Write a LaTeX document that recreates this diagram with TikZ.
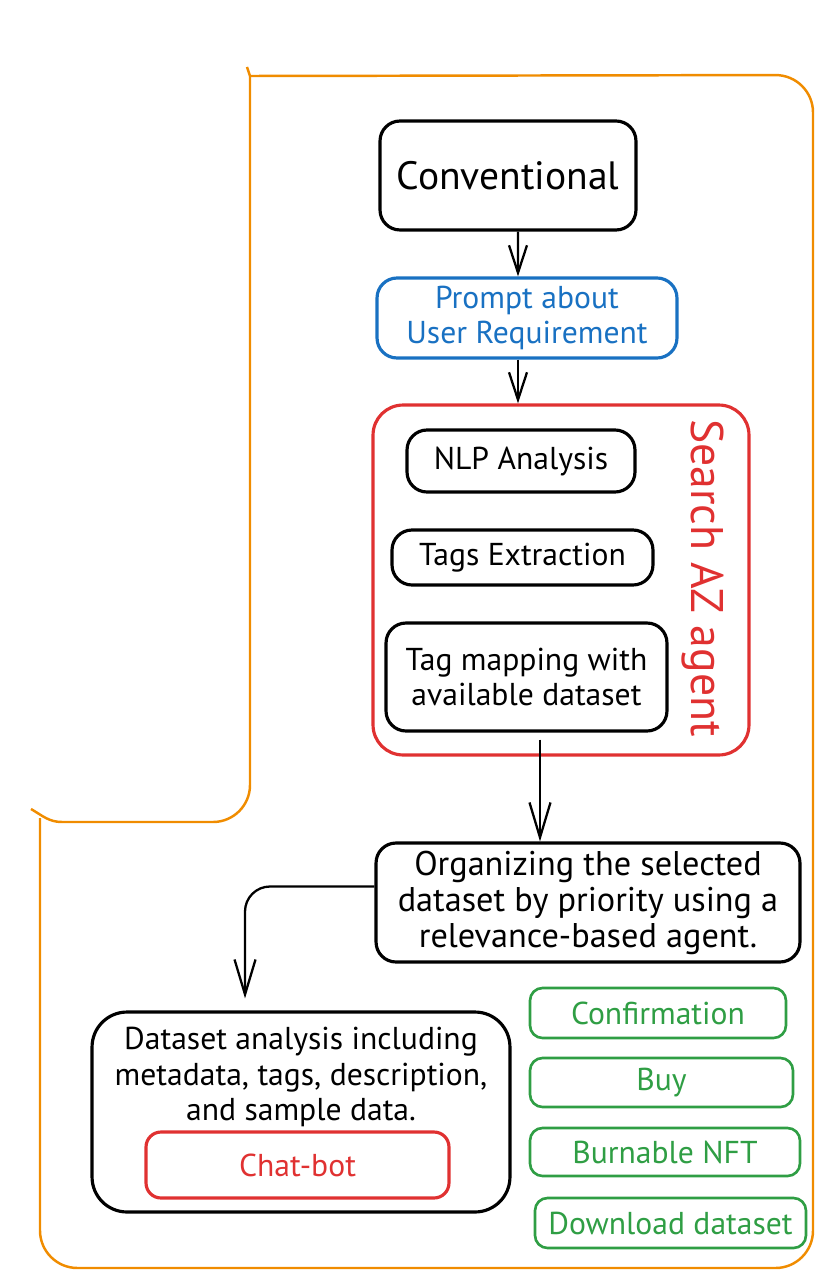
\documentclass[tikz,border=0pt]{standalone}
\usepackage{fontspec}
\setmainfont{PT Sans}
\usetikzlibrary{arrows.meta}
\definecolor{sketchorange}{HTML}{F08C00}
\definecolor{sketchblue}{HTML}{1971C2}
\definecolor{sketchred}{HTML}{E03131}
\definecolor{sketchgreen}{HTML}{2F9E44}

\begin{document}
\begin{tikzpicture}[x=0.02cm, y=-0.02cm,
    box/.style={draw, line width=1.8pt, rounded corners=0.4cm, align=center,
      inner sep=0pt, font=\fontsize{18}{20}\selectfont},
    greenbox/.style={box, draw=sketchgreen, text=sketchgreen, line width=1.5pt, rounded corners=0.25cm},
    frame/.style={sketchorange, line width=1.4pt},
    flow/.style={line width=1.3pt, -{Straight Barb[length=0.7cm, width=0.42cm, line width=1.3pt]}},
    shortflow/.style={flow, -{Straight Barb[length=0.55cm, width=0.36cm, line width=1.3pt]}},
  ]
  \useasboundingbox (0,0) rectangle (827,1280);

  % outer frame
  \draw[frame] (247,67) -- (250,76);
  \draw[frame, rounded corners=0.75cm]
    (250,76) -- (813,75) -- (813,1268) -- (40,1268) -- (40,818);
  \draw[frame] (31,809) to[out=-30,in=180] (62,822);
  \draw[frame, rounded corners=0.74cm] (62,822) -- (250,822) -- (250,76);

  \node[box, minimum width=5.12cm, minimum height=2.18cm,
    font=\fontsize{22.5}{26}\selectfont] (conv) at (508,175.5) {Conventional};
  \node[box, draw=sketchblue, text=sketchblue, minimum width=6cm, minimum height=1.6cm]
    (prompt) at (527,318) {Prompt about\\User Requirement};
  \node[box, draw=sketchred, rounded corners=0.6cm, minimum width=7.52cm, minimum height=7cm]
    (agent) at (561,580) {};
  \node[text=sketchred, rotate=-90, font=\fontsize{26}{30}\selectfont] (agentlabel) at (703,578) {Search AZ agent};

  \node[box, minimum width=4.56cm, minimum height=1.24cm] (nlp) at (521,461) {NLP Analysis};
  \node[box, minimum width=5.22cm, minimum height=1.1cm] (tags) at (522.5,557.5) {Tags Extraction};
  \node[box, minimum width=5.62cm, minimum height=2.16cm] (map) at (526.5,677) {Tag mapping with\\available dataset};

  \node[box, minimum width=8.48cm, minimum height=2.38cm, font=\fontsize{19.5}{20.5}\selectfont] (org) at (588,902.5)
    {Organizing the selected\\dataset by priority using a\\relevance-based agent.};

  \node[box, rounded corners=0.7cm, minimum width=8.36cm, minimum height=4cm] (data) at (301,1112) {};
  \node[align=center, font=\fontsize{18}{20}\selectfont] (datatext) at (301,1077)
    {Dataset analysis including\\metadata, tags, description,\\and sample data.};
  \node[box, draw=sketchred, text=sketchred, rounded corners=0.3cm, minimum width=6.06cm, minimum height=1.32cm]
    (chat) at (297.5,1165) {Chat-bot};

  \node[greenbox, minimum width=5.12cm, minimum height=1cm] (confirm) at (658,1013) {Confirmation};
  \node[greenbox, minimum width=5.26cm, minimum height=0.98cm] (buy) at (661.5,1082.5) {Buy};
  \node[greenbox, minimum width=5.4cm, minimum height=0.96cm] (nft) at (665,1152) {Burnable NFT};
  \node[greenbox, minimum width=5.42cm, minimum height=1cm] (download) at (670.5,1223) {Download dataset};

  \draw[shortflow] ([xshift=0.2cm]conv.south) -- ([xshift=-0.18cm]prompt.north);
  \draw[shortflow] ([xshift=-0.18cm]prompt.south) -- ([xshift=-0.18cm]prompt.south |- agent.north);
  \draw[flow] ([xshift=0.27cm,yshift=-0.14cm]map.south) -- ([xshift=0.27cm]map.south |- org.north);
  \draw[flow, rounded corners=0.5cm] ([yshift=0.32cm]org.west) -| ([xshift=-1.12cm, yshift=0.24cm]data.north);
\end{tikzpicture}
\end{document}
